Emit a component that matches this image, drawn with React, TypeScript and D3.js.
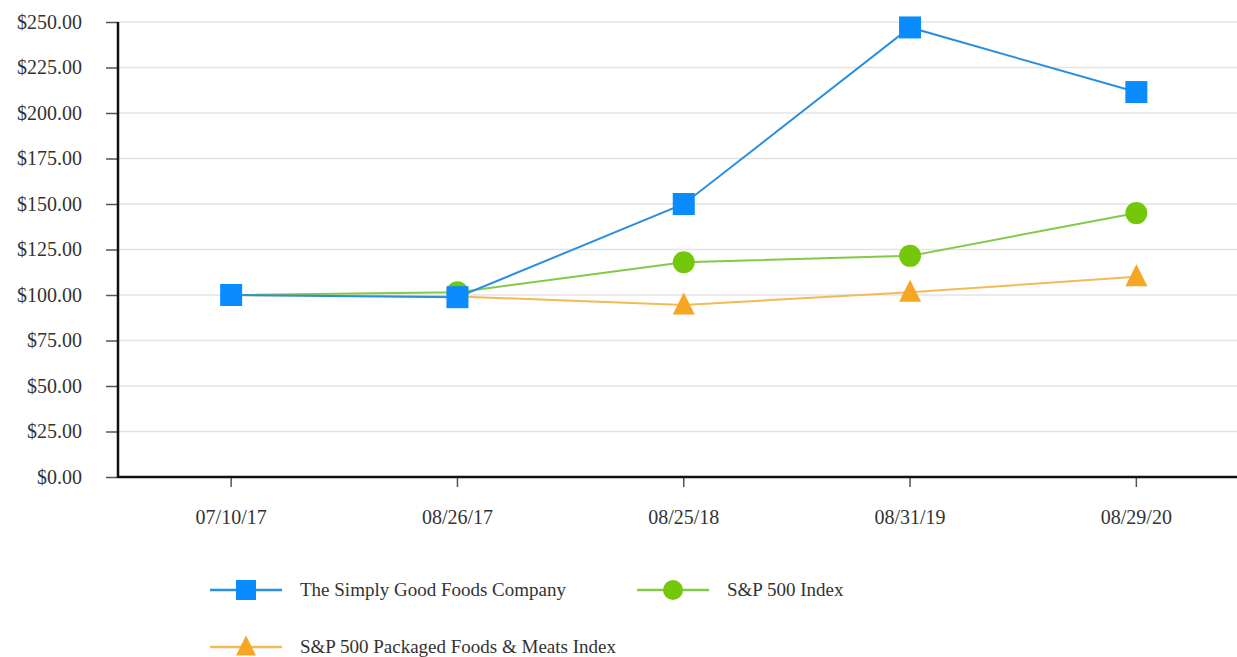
import React, { useEffect, useRef } from 'react';
import * as d3 from 'd3';

const dates = ['07/10/17', '08/26/17', '08/25/18', '08/31/19', '08/29/20'];
const simplyGood = [100, 98.8, 150, 247, 211.5];
const sp500 = [100, 101.5, 118, 121.5, 145];
const packagedFoods = [100, 99.2, 94.5, 101.5, 110];
const yTicks = [0, 25, 50, 75, 100, 125, 150, 175, 200, 225, 250];

const series = [
    { name: 'The Simply Good Foods Company', values: simplyGood, line: '#2b8fe0', fill: '#0a8cff', shape: 'square' },
    { name: 'S&P 500 Index', values: sp500, line: '#86c84a', fill: '#74c80c', shape: 'circle' },
    { name: 'S&P 500 Packaged Foods & Meats Index', values: packagedFoods, line: '#f2bb55', fill: '#f6a623', shape: 'triangle' },
];

const W = 1237;
const H = 657;
const FONT = '"Liberation Serif", "Times New Roman", serif';

function drawMarker(g, shape, x, y, fill, size) {
    if (shape === 'square') {
        g.append('rect').attr('x', x - size / 2).attr('y', y - size / 2)
            .attr('width', size).attr('height', size).attr('fill', fill);
    } else if (shape === 'circle') {
        g.append('circle').attr('cx', x).attr('cy', y).attr('r', size / 2).attr('fill', fill);
    } else {
        const h = size * 0.95;
        g.append('path')
            .attr('d', `M${x},${y - h * 0.6} L${x + size / 2},${y + h * 0.45} L${x - size / 2},${y + h * 0.45} Z`)
            .attr('fill', fill);
    }
}

function LineChart() {
    const svgRef = useRef(null);

    useEffect(() => {
        const svg = d3.select(svgRef.current);
        svg.selectAll('*').remove();

        const left = 118, top = 22, bottom = 477;
        const x = d3.scaleBand().domain(dates).range([left, left + 5 * 226.3]);
        const cx = d => x(d) + x.bandwidth() / 2;
        const y = d3.scaleLinear().domain([0, 250]).range([bottom, top]);

        // gridlines
        svg.append('g').selectAll('line').data(yTicks.slice(1)).enter().append('line')
            .attr('x1', left).attr('x2', W).attr('y1', d => y(d)).attr('y2', d => y(d))
            .attr('stroke', '#e3e3e3').attr('stroke-width', 1.5);

        // y axis
        const yAxis = svg.append('g').attr('transform', `translate(${left},0)`)
            .call(d3.axisLeft(y).tickValues(yTicks).tickSize(12).tickPadding(24)
                .tickFormat(d => '$' + d3.format('.2f')(d)));
        yAxis.select('.domain').remove();
        yAxis.selectAll('.tick line').attr('stroke', '#555').attr('stroke-width', 1.5);
        yAxis.selectAll('text').attr('font-family', FONT).attr('font-size', 20).attr('fill', '#333');

        // x axis
        const xAxis = svg.append('g').attr('transform', `translate(0,${bottom})`)
            .call(d3.axisBottom(x).tickSize(10).tickPadding(23));
        xAxis.select('.domain').remove();
        xAxis.selectAll('.tick line').attr('stroke', '#555').attr('stroke-width', 1.5);
        xAxis.selectAll('text').attr('font-family', FONT).attr('font-size', 20).attr('fill', '#333');

        svg.append('line').attr('x1', left).attr('x2', W).attr('y1', bottom).attr('y2', bottom)
            .attr('stroke', '#111').attr('stroke-width', 2.5);
        svg.append('line').attr('x1', left).attr('x2', left).attr('y1', top).attr('y2', bottom + 1)
            .attr('stroke', '#111').attr('stroke-width', 2.5);

        const line = d3.line().x((d, i) => cx(dates[i])).y(d => y(d));

        // lines drawn bottom-up so the company line sits on top
        [...series].reverse().forEach(s => {
            svg.append('path').datum(s.values).attr('d', line)
                .attr('fill', 'none').attr('stroke', s.line).attr('stroke-width', 2);
        });
        [...series].reverse().forEach(s => {
            const g = svg.append('g');
            s.values.forEach((v, i) => {
                if (s.shape !== 'square' && i === 0) return;
                drawMarker(g, s.shape, cx(dates[i]), y(v), s.fill, 22);
            });
        });

        // legend
        const legendPos = [[210, 590], [637, 590], [210, 647]];
        series.forEach((s, i) => {
            const [lx, ly] = legendPos[i];
            const g = svg.append('g');
            g.append('line').attr('x1', lx).attr('x2', lx + 72).attr('y1', ly).attr('y2', ly)
                .attr('stroke', s.line).attr('stroke-width', 2.5);
            drawMarker(g, s.shape, lx + 36, ly, s.fill, 20);
            g.append('text').attr('x', lx + 90).attr('y', ly).attr('dy', '0.3em')
                .attr('font-family', FONT).attr('font-size', 19).attr('fill', '#333')
                .text(s.name);
        });
    }, []);

    return <svg ref={svgRef} width={W} height={H} style={{ display: 'block', background: '#fff' }}></svg>;
}

export default function App() {
    return (
        <div style={{ position: 'fixed', left: 0, top: 0, width: W, height: H, background: '#fff' }}>
            <LineChart />
        </div>
    );
}
